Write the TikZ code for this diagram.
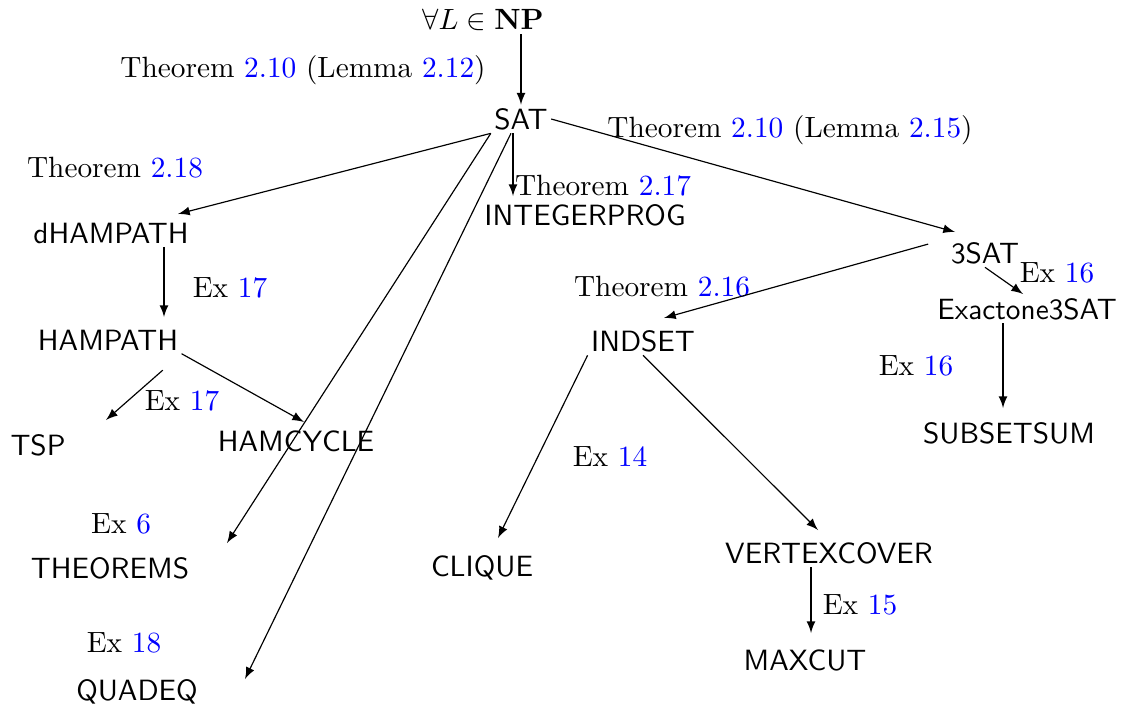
\documentclass[tikz,border=0pt]{standalone}
\usepackage{xcolor}
\newcommand{\lnk}[1]{\textcolor{blue}{#1}}
\begin{document}
\begin{tikzpicture}[x=0.012cm,y=-0.012cm,
		prob/.style={font=\sffamily,inner sep=1pt},
		lab/.style={inner sep=1pt},
		arr/.style={-latex}]
			\useasboundingbox (0,0) rectangle (1123,709);
			% problems
			\node[lab] (np) at (483,20) {$\forall L \in \mathbf{NP}$};
			\node[prob] (sat) at (521,119) {SAT};
			\node[prob] (dham) at (111,233) {dHAMPATH};
			\node[prob] (intprog) at (585,215) {INTEGERPROG};
			\node[prob] (3sat) at (985,253) {3SAT};
			\node[prob] (exact) at (1027,309) {Exactone3SAT};
			\node[prob] (indset) at (643,341) {INDSET};
			\node[prob] (hampath) at (108,340) {HAMPATH};
			\node[prob] (tsp) at (38,445) {TSP};
			\node[prob] (hamcycle) at (296,441) {HAMCYCLE};
			\node[prob] (subsetsum) at (1009,433) {SUBSETSUM};
			\node[prob] (theorems) at (110,568) {THEOREMS};
			\node[prob] (clique) at (482,568) {CLIQUE};
			\node[prob] (vc) at (829,553) {VERTEXCOVER};
			\node[prob] (maxcut) at (805,660) {MAXCUT};
			\node[prob] (quadeq) at (137,692) {QUADEQ};
			% reductions
			\node[lab] (tnp) at (303,70) {Theorem \lnk{2.10} (Lemma \lnk{2.12})};
			\node[lab] (t3sat) at (790,130) {Theorem \lnk{2.10} (Lemma \lnk{2.15})};
			\node[lab] (tdham) at (115,168) {Theorem \lnk{2.18}};
			\node[lab] (tint) at (603,186) {Theorem \lnk{2.17}};
			\node[lab] (tind) at (662,287) {Theorem \lnk{2.16}};
			\node[lab] (eexact) at (1057,273) {Ex \lnk{16}};
			\node[lab] (esub) at (916,366) {Ex \lnk{16}};
			\node[lab] (ehp) at (230,288) {Ex \lnk{17}};
			\node[lab] (ehc) at (182,401) {Ex \lnk{17}};
			\node[lab] (eclq) at (610,457) {Ex \lnk{14}};
			\node[lab] (ethm) at (121,524) {Ex \lnk{6}};
			\node[lab] (emc) at (860,605) {Ex \lnk{15}};
			\node[lab] (equad) at (124,643) {Ex \lnk{18}};
			% arrow tips
			\coordinate (dhtip) at (178,214);
			\coordinate (thtip) at (227,543);
			\coordinate (qdtip) at (245,679);
			\coordinate (iptip) at (513,196);
			\coordinate (s3tip) at (955,232);
			\coordinate (istip) at (664,318);
			\coordinate (extip) at (1023,294);
			\coordinate (sstip) at (1003,408);
			\coordinate (hptip) at (164,317);
			\coordinate (tsptip) at (106,420);
			\coordinate (hctip) at (304,422);
			\coordinate (cqtip) at (498,538);
			\coordinate (vctip) at (818,530);
			\coordinate (mctip) at (811,633);
			\draw[arr] (np.south -| sat.north) -- (sat.north);
			\draw[arr] (sat.south west) -- (dhtip);
			\draw[arr] (sat.south west) -- (thtip);
			\draw[arr] (sat.235) -- (qdtip);
			\draw[arr] (iptip |- sat.south) -- (iptip);
			\draw[arr] (sat.east) -- (s3tip);
			\draw[arr,shorten <=2.4mm] (3sat.north west) -- (istip);
			\draw[arr] (3sat.south) -- (extip);
			\draw[arr] (sstip |- exact.south) -- (sstip);
			\draw[arr] (hptip |- dham.south) -- (hptip);
			\draw[arr,shorten <=3mm] (hampath.south east) -- (tsptip);
			\draw[arr] (hampath.south east) -- (hctip);
			\draw[arr] (indset.south west) -- (cqtip);
			\draw[arr] (indset.south) -- (vctip);
			\draw[arr] (mctip |- vc.south) -- (mctip);
		\end{tikzpicture}
\end{document}
